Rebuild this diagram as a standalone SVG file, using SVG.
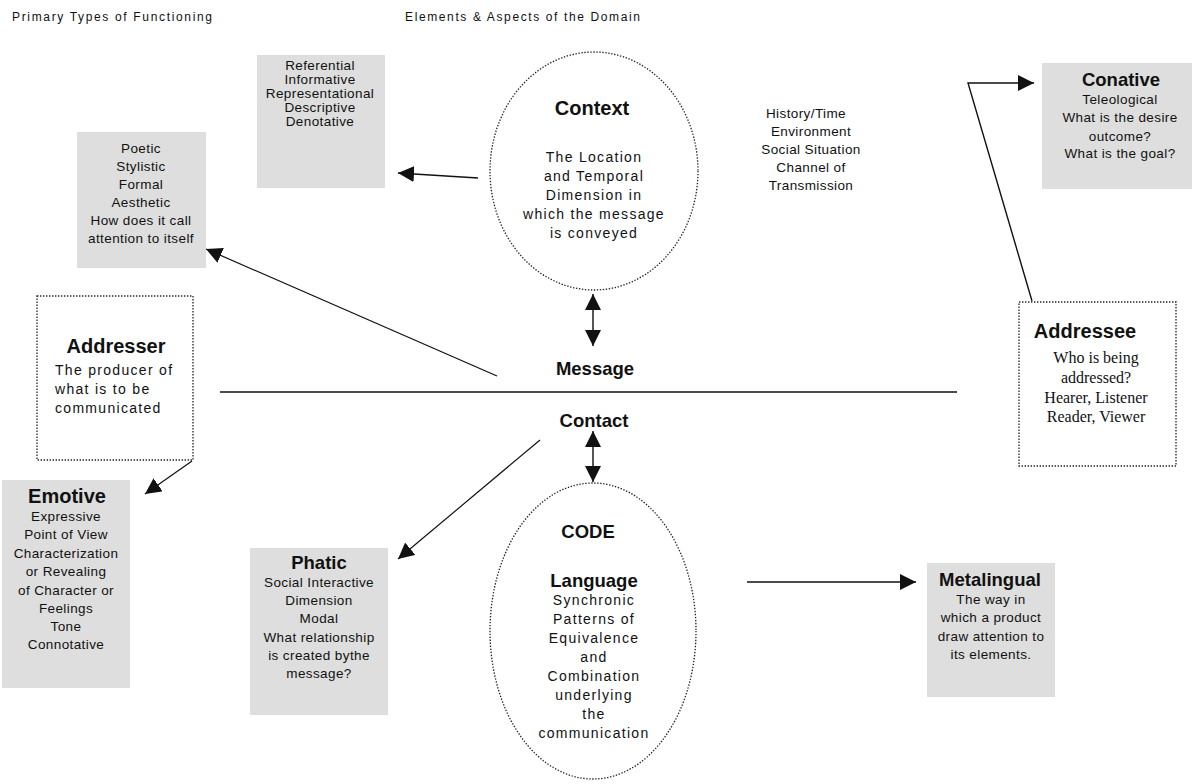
<svg xmlns="http://www.w3.org/2000/svg" width="1198" height="784" viewBox="0 0 1198 784">
<style>
text{font-family:"Liberation Sans",Arial,sans-serif;fill:#111;}
.h{font-size:12px;}
.t{font-size:13.5px;letter-spacing:0.4px;text-anchor:middle;}
.w{font-size:14px;letter-spacing:1.3px;text-anchor:middle;}
.b{font-size:18.5px;font-weight:bold;text-anchor:middle;}
.B{font-size:20px;font-weight:bold;text-anchor:middle;}
.s{font-family:"Liberation Serif","Times New Roman",serif;font-size:16px;text-anchor:middle;}
.box{fill:#dedede;stroke:none;}
.dot{fill:#fff;stroke:#222;stroke-width:1.3;stroke-dasharray:1.4 1.6;}
.ln{stroke:#111;stroke-width:1.4;fill:none;}
</style>
<defs>
<marker id="ah" markerUnits="userSpaceOnUse" markerWidth="18" markerHeight="16" refX="16" refY="8" orient="auto-start-reverse" viewBox="0 0 18 16">
<path d="M0,0 L16,8 L0,16 z" fill="#111"/>
</marker>
</defs>

<text class="h" x="12" y="21" textLength="200">Primary Types of Functioning</text>
<text class="h" x="405" y="21" textLength="235">Elements &amp; Aspects of the Domain</text>

<g id="referential">
<rect class="box" x="257" y="55" width="128" height="133"/>
<text class="t" x="320" y="70">Referential</text>
<text class="t" x="320" y="84">Informative</text>
<text class="t" x="320" y="98">Representational</text>
<text class="t" x="320" y="112">Descriptive</text>
<text class="t" x="320" y="126">Denotative</text>
</g>

<g id="poetic">
<rect class="box" x="77" y="132" width="129" height="136"/>
<text class="t" x="141" y="153">Poetic</text>
<text class="t" x="141" y="171">Stylistic</text>
<text class="t" x="141" y="189">Formal</text>
<text class="t" x="141" y="207">Aesthetic</text>
<text class="t" x="141" y="225">How does it call</text>
<text class="t" x="141" y="243">attention to itself</text>
</g>

<g id="context">
<ellipse class="dot" cx="594" cy="171" rx="104" ry="119"/>
<text class="B" x="592" y="115">Context</text>
<text class="w" x="594" y="162">The Location</text>
<text class="w" x="594" y="181">and Temporal</text>
<text class="w" x="594" y="200">Dimension in</text>
<text class="w" x="594" y="219">which the message</text>
<text class="w" x="594" y="238">is conveyed</text>
</g>

<g id="aspects">
<text class="t" x="806" y="118">History/Time</text>
<text class="t" x="811" y="136">Environment</text>
<text class="t" x="811" y="154">Social Situation</text>
<text class="t" x="811" y="172">Channel of</text>
<text class="t" x="811" y="190">Transmission</text>
</g>

<g id="conative">
<rect class="box" x="1042" y="63" width="150" height="126"/>
<text class="b" x="1121" y="86">Conative</text>
<text class="t" x="1120" y="104">Teleological</text>
<text class="t" x="1120" y="122">What is the desire</text>
<text class="t" x="1120" y="141">outcome?</text>
<text class="t" x="1120" y="158">What is the goal?</text>
</g>

<g id="addresser">
<rect class="dot" x="37" y="296" width="156" height="164"/>
<text class="B" x="116" y="353">Addresser</text>
<text class="w" x="55" y="375" style="text-anchor:start">The producer  of</text>
<text class="w" x="55" y="394" style="text-anchor:start">what is to be</text>
<text class="w" x="55" y="413" style="text-anchor:start">communicated</text>
</g>

<g id="addressee">
<rect class="dot" x="1019" y="302" width="157" height="164"/>
<text class="B" x="1085" y="338">Addressee</text>
<text class="s" x="1096" y="363">Who is being</text>
<text class="s" x="1096" y="383">addressed?</text>
<text class="s" x="1096" y="403">Hearer, Listener</text>
<text class="s" x="1096" y="422">Reader, Viewer</text>
</g>

<g id="message">
<text class="b" x="595" y="375">Message</text>
</g>
<g id="contact">
<text class="b" x="594" y="427">Contact</text>
</g>

<g id="emotive">
<rect class="box" x="2" y="480" width="128" height="208"/>
<text class="B" x="67" y="503">Emotive</text>
<text class="t" x="66" y="521">Expressive</text>
<text class="t" x="66" y="539">Point of View</text>
<text class="t" x="66" y="558">Characterization</text>
<text class="t" x="66" y="576">or Revealing</text>
<text class="t" x="66" y="595">of Character or</text>
<text class="t" x="66" y="613">Feelings</text>
<text class="t" x="66" y="631">Tone</text>
<text class="t" x="66" y="649">Connotative</text>
</g>

<g id="phatic">
<rect class="box" x="250" y="548" width="138" height="167"/>
<text class="b" x="319" y="569">Phatic</text>
<text class="t" x="319" y="587">Social Interactive</text>
<text class="t" x="319" y="605">Dimension</text>
<text class="t" x="319" y="623">Modal</text>
<text class="t" x="319" y="642">What relationship</text>
<text class="t" x="319" y="660">is created bythe</text>
<text class="t" x="319" y="678">message?</text>
</g>

<g id="code">
<ellipse class="dot" cx="593" cy="631" rx="103" ry="148"/>
<text class="b" x="588" y="538">CODE</text>
<text class="b" x="594" y="587">Language</text>
<text class="w" x="594" y="605">Synchronic</text>
<text class="w" x="594" y="624">Patterns of</text>
<text class="w" x="594" y="643">Equivalence</text>
<text class="w" x="594" y="662">and</text>
<text class="w" x="594" y="681">Combination</text>
<text class="w" x="594" y="700">underlying</text>
<text class="w" x="594" y="719">the</text>
<text class="w" x="594" y="738">communication</text>
</g>

<g id="metalingual">
<rect class="box" x="927" y="563" width="128" height="134"/>
<text class="b" x="990" y="586">Metalingual</text>
<text class="t" x="991" y="604">The way in</text>
<text class="t" x="991" y="622">which a product</text>
<text class="t" x="991" y="641">draw attention to</text>
<text class="t" x="991" y="659">its elements.</text>
</g>

<g id="connectors">
<line class="ln" x1="220" y1="392" x2="957" y2="392" style="stroke-width:1.6"/>
<line class="ln" x1="478" y1="178" x2="398" y2="173" marker-end="url(#ah)"/>
<line class="ln" x1="497" y1="376" x2="206" y2="249" marker-end="url(#ah)" style="stroke-width:1.2"/>
<line class="ln" x1="593" y1="294" x2="593" y2="346" marker-start="url(#ah)" marker-end="url(#ah)"/>
<line class="ln" x1="593" y1="431" x2="593" y2="482" marker-start="url(#ah)" marker-end="url(#ah)"/>
<polyline class="ln" points="1032,301 968,83 1034,83" marker-end="url(#ah)"/>
<line class="ln" x1="192" y1="461" x2="145" y2="494" marker-end="url(#ah)" style="stroke-width:1.2"/>
<line class="ln" x1="540" y1="440" x2="398" y2="559" marker-end="url(#ah)" style="stroke-width:1.2"/>
<line class="ln" x1="747" y1="582" x2="916" y2="582" marker-end="url(#ah)"/>
</g>
</svg>
